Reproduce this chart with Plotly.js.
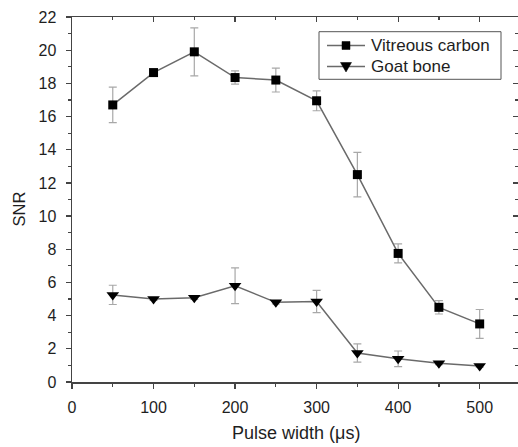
<!DOCTYPE html>
<html>
<head>
<meta charset="utf-8">
<script src="https://cdn.plot.ly/plotly-3.0.1.min.js"></script>
<style>
  html, body { margin: 0; padding: 0; overflow: hidden; background: #fff; }
  #chart { width: 518px; height: 447px; }
</style>
</head>
<body>
<div id="chart"></div>
<script>
// Pulse widths (µs)
const pulseWidth = [50, 100, 150, 200, 250, 300, 350, 400, 450, 500];

// SNR for vitreous carbon, with standard deviation
const carbonSNR = [16.7, 18.65, 19.9, 18.35, 18.2, 16.95, 12.5, 7.75, 4.5, 3.5];
const carbonErr = [1.07, 0.12, 1.45, 0.4, 0.72, 0.6, 1.34, 0.57, 0.4, 0.87];

// SNR for goat bone, with standard deviation
const boneSNR = [5.25, 5.0, 5.08, 5.8, 4.8, 4.85, 1.75, 1.4, 1.13, 0.97];
const boneErr = [0.58, 0.08, 0.1, 1.08, 0.1, 0.67, 0.55, 0.47, 0.08, 0.08];

const seriesNames = ['Vitreous carbon', 'Goat bone'];
const xTicks = [0, 100, 200, 300, 400, 500];
const xMinor = [50, 150, 250, 350, 450];
const yTicks = [0, 2, 4, 6, 8, 10, 12, 14, 16, 18, 20, 22];
const xRange = [0, 547];
const yRange = [0, 22];

const lineColor = '#6a6a6a';
const errColor = '#a8a8a8';
const axisColor = '#444';
const textColor = '#1e1e1e';
const font = 'Liberation Sans, Arial, sans-serif';

// figure geometry (pixels); the frame runs off the right edge of the page
const W = 518, H = 447;
const M = { l: 72, r: 0, t: 17, b: 65 };
const plotW = W - M.l - M.r, plotH = H - M.t - M.b;
const px = v => (v - M.l) / plotW;      // page x -> paper x
const py = v => (H - M.b - v) / plotH;  // page y -> paper y

const errStyle = arr => ({ type: 'data', array: arr, visible: true, color: errColor, thickness: 1.2, width: 4 });

const traces = [
  {
    name: seriesNames[0],
    x: pulseWidth, y: carbonSNR, error_y: errStyle(carbonErr),
    mode: 'lines+markers',
    line: { color: lineColor, width: 1.5 },
    marker: { symbol: 'square', size: 9, color: '#000' },
    cliponaxis: false
  },
  {
    name: seriesNames[1],
    x: pulseWidth, y: boneSNR, error_y: errStyle(boneErr),
    mode: 'lines+markers',
    line: { color: lineColor, width: 1.5 },
    marker: { symbol: 'triangle-down', size: 11, color: '#000' },
    cliponaxis: false
  },
  // empty trace on the mirrored axes so the top and right frames get drawn
  { x: [], y: [], xaxis: 'x2', yaxis: 'y2', showlegend: false, hoverinfo: 'skip' }
];

// boxed key in the upper right
const key = { x0: 319, x1: 501, y0: 31.7, y1: 79.3, rows: [45.5, 66.5], lineX0: 327, lineX1: 365, symX: 346, textX: 369 };
const shapes = [
  { type: 'rect', xref: 'paper', yref: 'paper',
    x0: px(key.x0), x1: px(key.x1), y0: py(key.y1), y1: py(key.y0),
    line: { color: '#555', width: 1 }, fillcolor: '#fff', layer: 'above' }
];
const annotations = [];
key.rows.forEach((ry, i) => {
  shapes.push({ type: 'line', xref: 'paper', yref: 'paper',
    x0: px(key.lineX0), x1: px(key.lineX1), y0: py(ry), y1: py(ry),
    line: { color: lineColor, width: 1.5 }, layer: 'above' });
  let path;
  if (i === 0) {
    const h = 4;
    path = `M${px(key.symX - h)},${py(ry - h)} L${px(key.symX + h)},${py(ry - h)} L${px(key.symX + h)},${py(ry + h)} L${px(key.symX - h)},${py(ry + h)} Z`;
  } else {
    const hw = 5.5, up = 4, dn = 5.5;
    path = `M${px(key.symX - hw)},${py(ry - up)} L${px(key.symX + hw)},${py(ry - up)} L${px(key.symX)},${py(ry + dn)} Z`;
  }
  shapes.push({ type: 'path', xref: 'paper', yref: 'paper', path,
    line: { color: '#000', width: 0.5 }, fillcolor: '#000', layer: 'above' });
  annotations.push({ xref: 'paper', yref: 'paper', x: px(key.textX), y: py(ry),
    xanchor: 'left', yanchor: 'middle', showarrow: false, text: seriesNames[i],
    font: { family: font, size: 17, color: textColor } });
});

// axis titles
annotations.push({ xref: 'paper', yref: 'paper', x: px(296), y: py(433),
  xanchor: 'center', yanchor: 'middle', showarrow: false,
  text: 'Pulse width (\u03bcs)', font: { family: font, size: 18, color: textColor } });
annotations.push({ xref: 'paper', yref: 'paper', x: px(18.5), y: py(209),
  xanchor: 'center', yanchor: 'middle', showarrow: false, textangle: -90,
  text: 'SNR', font: { family: font, size: 16.5, color: textColor } });

const frame = { showgrid: false, zeroline: false, showline: true, linecolor: axisColor, linewidth: 1.5,
  tickwidth: 1.2, tickcolor: axisColor };

const layout = {
  width: W, height: H, margin: M,
  paper_bgcolor: '#fff', plot_bgcolor: '#fff',
  font: { family: font, color: textColor, size: 16 },
  showlegend: false,
  shapes, annotations,
  xaxis: Object.assign({}, frame, {
    range: xRange, tickvals: xTicks, ticktext: xTicks.map(String),
    ticks: 'outside', ticklen: 5, ticklabelstandoff: 5,
    minor: { tickvals: xMinor, ticks: 'outside', ticklen: 3, tickcolor: axisColor },
    tickfont: { size: 16, family: font, color: textColor }
  }),
  xaxis2: Object.assign({}, frame, {
    overlaying: 'x', side: 'top', range: xRange, tickvals: xTicks, showticklabels: false,
    ticks: 'inside', ticklen: 5,
    minor: { tickvals: xMinor, ticks: 'inside', ticklen: 3, tickcolor: axisColor }
  }),
  yaxis: Object.assign({}, frame, {
    range: yRange, tickvals: yTicks, ticktext: yTicks.map(String),
    ticks: 'outside', ticklen: 5, ticklabelstandoff: 6,
    minor: { dtick: 1, ticks: 'outside', ticklen: 3, tickcolor: axisColor },
    tickfont: { size: 16, family: font, color: textColor }
  }),
  // right frame: only inward ticks fall inside the page
  yaxis2: Object.assign({}, frame, {
    overlaying: 'y', side: 'right', range: yRange, tickvals: yTicks, showticklabels: false,
    showline: false,
    ticks: 'inside', ticklen: 5,
    minor: { dtick: 1, ticks: 'inside', ticklen: 3, tickcolor: axisColor }
  })
};

Plotly.newPlot('chart', traces, layout, { staticPlot: true, displayModeBar: false });
</script>
</body>
</html>
